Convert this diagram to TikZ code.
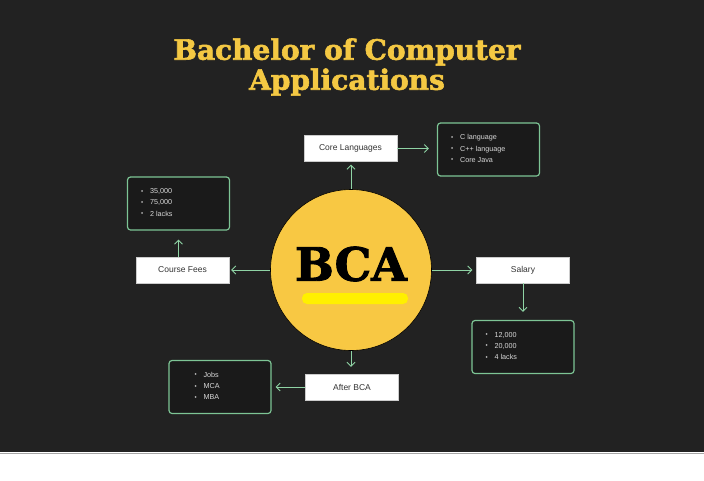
\documentclass[tikz,border=0pt]{standalone}
\usepackage{fontspec}
\usetikzlibrary{arrows.meta,calc}
\newfontfamily\titlefont{DejaVu Serif Bold}[FakeBold=2]
\newfontfamily\smallfont{Liberation Sans}
\definecolor{bgc}{HTML}{222222}
\definecolor{boxfill}{HTML}{1A1A1A}
\definecolor{gborder}{HTML}{7DC595}
\definecolor{garrow}{HTML}{8FD4A5}
\definecolor{gold}{HTML}{F4C843}
\definecolor{circfill}{HTML}{F8C843}
\definecolor{stripe}{HTML}{FFF000}
\definecolor{labtext}{HTML}{333333}
\tikzset{
  x=1pt, y=-1pt,
  whitebox/.style={draw=gray!40, fill=white, minimum width=93pt, minimum height=26pt,
    inner sep=0pt, font=\smallfont\fontsize{8.5}{10}\selectfont, text=labtext},
  listbox/.style={draw=gborder, line width=1.2pt, fill=boxfill, rounded corners=3pt,
    minimum width=102pt, minimum height=53pt, inner sep=0pt},
  listtext/.style={anchor=north west, inner sep=0pt, align=left, text=white!85!black,
    font=\smallfont\fontsize{7.2}{11.3}\selectfont},
  conn/.style={draw=garrow, line width=0.9pt, -{Straight Barb[length=4pt,width=8pt]}},
}
\newcommand{\bl}{\makebox[9pt][l]{\raisebox{0.6pt}{\scalebox{0.85}{\textbullet}}}}
\begin{document}
\begin{tikzpicture}
\useasboundingbox (0,0) rectangle (704,480);
\fill[white] (0,0) rectangle (704,480);
\fill[bgc] (0,0) rectangle (704,452);
\draw[gray!70, line width=1pt] (0,453) -- (704,453);

% title
\node[text=gold, font=\titlefont\fontsize{28}{30}\selectfont, align=center] (title) at (347,67)
  {Bachelor of Computer\\Applications};

% centre circle
\node[circle, draw=black, line width=0.6pt, fill=circfill, minimum size=161pt, inner sep=0pt] (bca) at (351,270) {};
\fill[stripe, rounded corners=5pt] (302,293) rectangle (408,304);
\node[font=\titlefont\fontsize{46}{50}\selectfont, text=black] (bcat) at (351,264) {BCA};

% white label boxes
\node[whitebox] (core) at (350.5,148.5) {Core Languages};
\node[whitebox] (fees) at (182.5,270) {Course Fees};
\node[whitebox] (sal) at (523,270) {Salary};
\node[whitebox] (after) at (352,387) {After BCA};

% list boxes
\node[listbox] (clist) at (488.5,149.5) {};
\node[listtext] (cltxt) at ($(clist.north west)+(14,12)$) {\bl C language\\\bl C++ language\\\bl Core Java};
\node[listbox] (flist) at (178.5,203.5) {};
\node[listtext] (fltxt) at ($(flist.north west)+(14,12)$) {\bl 35,000\\\bl 75,000\\\bl 2 lacks};
\node[listbox] (slist) at (523,347) {};
\node[listtext] (sltxt) at ($(slist.north west)+(14,12)$) {\bl 12,000\\\bl 20,000\\\bl 4 lacks};
\node[listbox] (alist) at (220,387) {};
\node[listtext] (altxt) at ($(alist.north west)+(26,12)$) {\bl Jobs\\\bl MCA\\\bl MBA};

% connectors
\draw[conn, shorten >=3pt] (bca.north) -- (bca.north |- core.south);
\draw[conn, shorten >=8pt] (core.east) -- (core.east -| clist.west);
\draw[conn, shorten >=2pt] (bca.west) -- (fees.east);
\draw[conn, shorten >=9pt] (flist.south |- fees.north) -- (flist.south);
\draw[conn, shorten >=4pt] (bca.east) -- (sal.west);
\draw[conn, shorten >=8pt] (sal.south) -- (slist.north);
\draw[conn, shorten >=7pt] (bca.south) -- (bca.south |- after.north);
\draw[conn, shorten >=4pt] (after.west) -- (after.west -| alist.east);
\end{tikzpicture}
\end{document}
